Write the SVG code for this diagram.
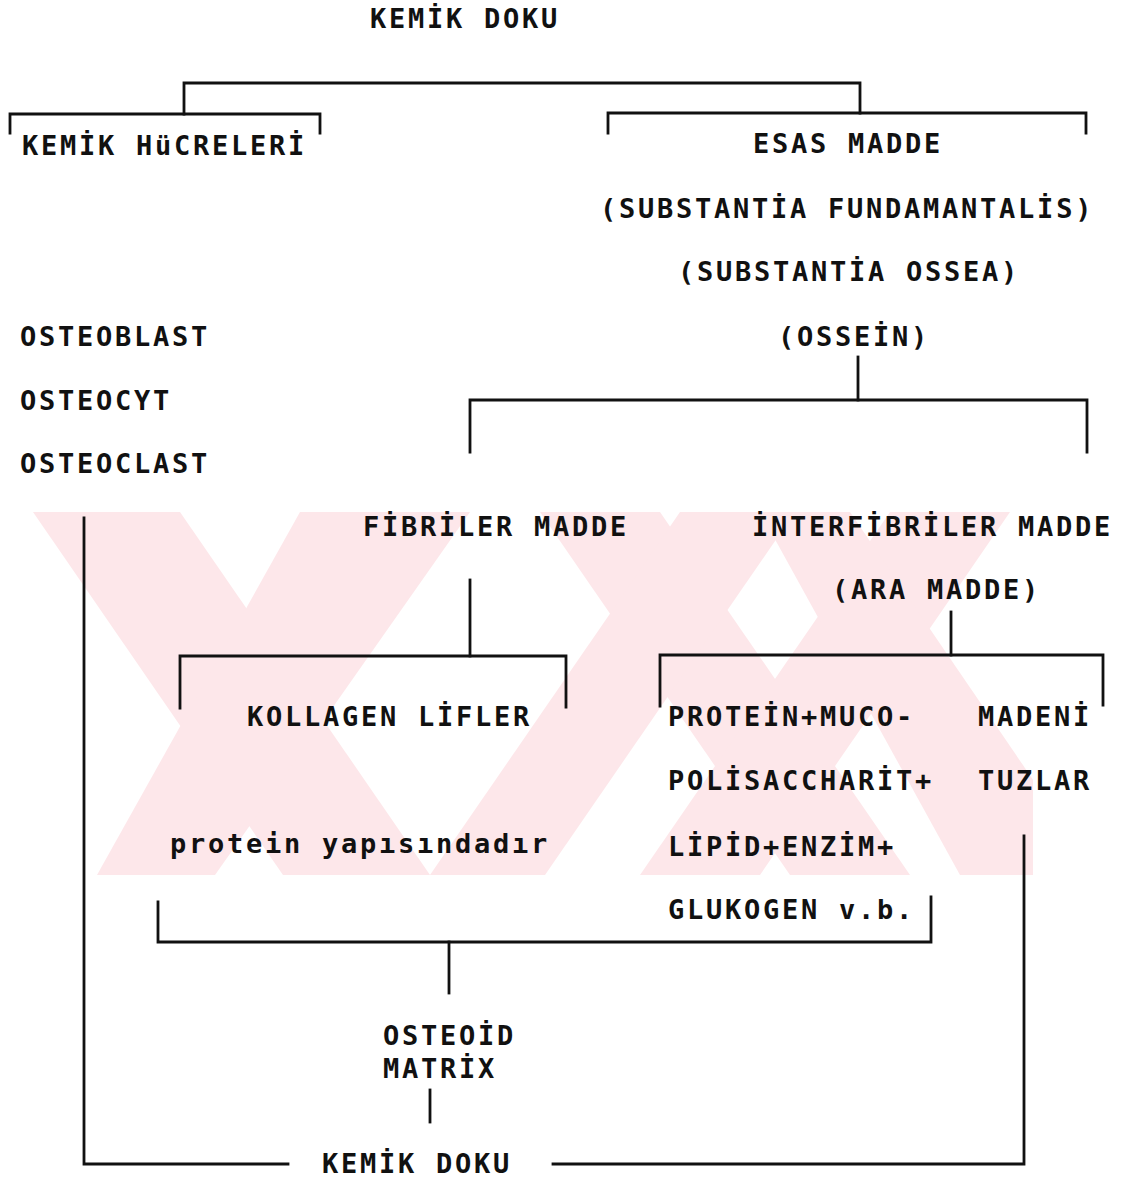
<svg xmlns="http://www.w3.org/2000/svg" width="1130" height="1181" viewBox="0 0 1130 1181">
<style>
  .t { font-family: "DejaVu Sans Mono", "Liberation Mono", monospace; font-weight: bold; font-size: 27px; letter-spacing: 2.75px; fill: #111; }
  .ln { stroke: #111; stroke-width: 2.8; fill: none; stroke-linecap: square; }
  .wm { fill: #fde7ea; }
</style>
<defs>
  <clipPath id="wmclip"><rect x="33" y="512" width="1000" height="363"/></clipPath>
</defs>
<rect width="1130" height="1181" fill="#ffffff"/>
<g id="watermark" clip-path="url(#wmclip)">
  <polygon class="wm" points="33,512 180,512 430,875 283,875"/>
  <polygon class="wm" points="97,875 215,875 470,512 300,512"/>
  <polygon class="wm" points="540,512 660,512 910,875 790,875"/>
  <polygon class="wm" points="430,875 545,875 795,512 680,512"/>
  <polygon class="wm" points="640,875 760,875 1010,512 890,512"/>
  <polygon class="wm" points="760,512 850,512 1040,790 1040,875 960,875"/>
</g>
<g id="connectors">
  <path class="ln" d="M184,114 V83 H860 V113"/>
  <path class="ln" d="M10,133 V114 H320 V133"/>
  <path class="ln" d="M608,133 V113 H1086 V133"/>
  <path class="ln" d="M858,357 V400"/>
  <path class="ln" d="M470,452 V400 H1087 V452"/>
  <path class="ln" d="M470,580 V656"/>
  <path class="ln" d="M180,708 V656 H566 V707"/>
  <path class="ln" d="M951,612 V655"/>
  <path class="ln" d="M660,706 V655 H1103 V705"/>
  <path class="ln" d="M158,902 V942 H931 V897"/>
  <path class="ln" d="M449,942 V993"/>
  <path class="ln" d="M430,1090 V1122"/>
  <path class="ln" d="M84,518 V1164 H288"/>
  <path class="ln" d="M553,1164 H1024 V836"/>
</g>
<g id="n-kemik-doku-top"><text class="t" x="370" y="28">KEMİK DOKU</text></g>
<g id="n-kemik-hucreleri"><text class="t" x="22" y="155">KEMİK HüCRELERİ</text></g>
<g id="n-esas-madde">
  <text class="t" x="753" y="153">ESAS MADDE</text>
  <text class="t" x="600" y="218">(SUBSTANTİA FUNDAMANTALİS)</text>
  <text class="t" x="678" y="281">(SUBSTANTİA OSSEA)</text>
  <text class="t" x="778" y="346">(OSSEİN)</text>
</g>
<g id="n-cells">
  <text class="t" x="20" y="346">OSTEOBLAST</text>
  <text class="t" x="20" y="410">OSTEOCYT</text>
  <text class="t" x="20" y="473">OSTEOCLAST</text>
</g>
<g id="n-fibriler"><text class="t" x="363" y="536">FİBRİLER MADDE</text></g>
<g id="n-interfibriler">
  <text class="t" x="752" y="536">İNTERFİBRİLER MADDE</text>
  <text class="t" x="832" y="599">(ARA MADDE)</text>
</g>
<g id="n-kollagen">
  <text class="t" x="247" y="726">KOLLAGEN LİFLER</text>
  <text class="t" x="170" y="853">protein yapısındadır</text>
</g>
<g id="n-protein">
  <text class="t" x="668" y="726">PROTEİN+MUCO-</text>
  <text class="t" x="668" y="790">POLİSACCHARİT+</text>
  <text class="t" x="668" y="856">LİPİD+ENZİM+</text>
  <text class="t" x="668" y="919">GLUKOGEN v.b.</text>
</g>
<g id="n-madeni">
  <text class="t" x="978" y="726">MADENİ</text>
  <text class="t" x="978" y="790">TUZLAR</text>
</g>
<g id="n-osteoid">
  <text class="t" x="383" y="1045">OSTEOİD</text>
  <text class="t" x="383" y="1078">MATRİX</text>
</g>
<g id="n-kemik-doku-bottom"><text class="t" x="322" y="1173">KEMİK DOKU</text></g>
</svg>
